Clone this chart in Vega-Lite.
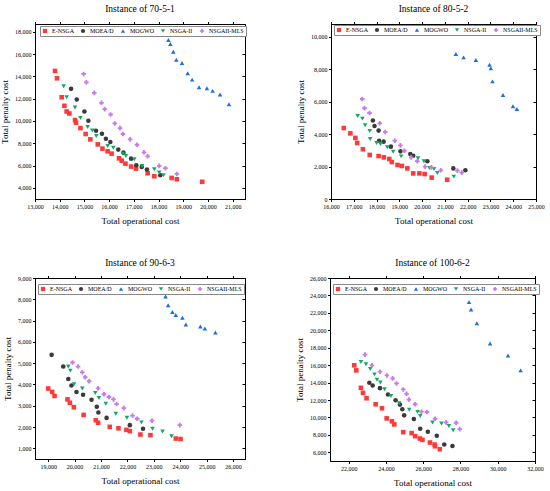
{
  "$schema": "https://vega.github.io/schema/vega-lite/v6.json",
  "padding": {"left": 0, "top": 3, "right": 0, "bottom": 0},
  "background": "white",
  "datasets": {
    "p1": [
      {"alg": "E-NSGA", "cost": 13810, "penalty": 14490}, {"alg": "E-NSGA", "cost": 13890, "penalty": 13830},
      {"alg": "E-NSGA", "cost": 14080, "penalty": 12130}, {"alg": "E-NSGA", "cost": 14190, "penalty": 11360},
      {"alg": "E-NSGA", "cost": 14280, "penalty": 10850}, {"alg": "E-NSGA", "cost": 14390, "penalty": 10670},
      {"alg": "E-NSGA", "cost": 14620, "penalty": 10080}, {"alg": "E-NSGA", "cost": 14660, "penalty": 9840},
      {"alg": "E-NSGA", "cost": 14840, "penalty": 9360}, {"alg": "E-NSGA", "cost": 15050, "penalty": 8830},
      {"alg": "E-NSGA", "cost": 15240, "penalty": 8350}, {"alg": "E-NSGA", "cost": 15540, "penalty": 7900},
      {"alg": "E-NSGA", "cost": 15730, "penalty": 7520}, {"alg": "E-NSGA", "cost": 15940, "penalty": 7280},
      {"alg": "E-NSGA", "cost": 16100, "penalty": 7070}, {"alg": "E-NSGA", "cost": 16400, "penalty": 6650},
      {"alg": "E-NSGA", "cost": 16510, "penalty": 6440}, {"alg": "E-NSGA", "cost": 16660, "penalty": 6170},
      {"alg": "E-NSGA", "cost": 16890, "penalty": 5910}, {"alg": "E-NSGA", "cost": 17090, "penalty": 5730},
      {"alg": "E-NSGA", "cost": 17560, "penalty": 5310}, {"alg": "E-NSGA", "cost": 17830, "penalty": 5040},
      {"alg": "E-NSGA", "cost": 18530, "penalty": 4890}, {"alg": "E-NSGA", "cost": 18740, "penalty": 4770},
      {"alg": "E-NSGA", "cost": 19770, "penalty": 4540},
      {"alg": "MOEA/D", "cost": 14460, "penalty": 12880}, {"alg": "MOEA/D", "cost": 14690, "penalty": 11920},
      {"alg": "MOEA/D", "cost": 15000, "penalty": 10850}, {"alg": "MOEA/D", "cost": 15160, "penalty": 10020},
      {"alg": "MOEA/D", "cost": 15470, "penalty": 9120}, {"alg": "MOEA/D", "cost": 15710, "penalty": 8860},
      {"alg": "MOEA/D", "cost": 15870, "penalty": 8410}, {"alg": "MOEA/D", "cost": 16050, "penalty": 8110},
      {"alg": "MOEA/D", "cost": 16370, "penalty": 7430}, {"alg": "MOEA/D", "cost": 16580, "penalty": 7160},
      {"alg": "MOEA/D", "cost": 16890, "penalty": 6620}, {"alg": "MOEA/D", "cost": 17100, "penalty": 6030},
      {"alg": "MOEA/D", "cost": 17320, "penalty": 5880}, {"alg": "MOEA/D", "cost": 17530, "penalty": 5640},
      {"alg": "MOEA/D", "cost": 18070, "penalty": 5130},
      {"alg": "MOGWO", "cost": 18400, "penalty": 17260}, {"alg": "MOGWO", "cost": 18480, "penalty": 16900},
      {"alg": "MOGWO", "cost": 18600, "penalty": 16210}, {"alg": "MOGWO", "cost": 18720, "penalty": 15500},
      {"alg": "MOGWO", "cost": 18950, "penalty": 15200}, {"alg": "MOGWO", "cost": 19180, "penalty": 14280},
      {"alg": "MOGWO", "cost": 19360, "penalty": 13710}, {"alg": "MOGWO", "cost": 19640, "penalty": 13030},
      {"alg": "MOGWO", "cost": 19960, "penalty": 12940}, {"alg": "MOGWO", "cost": 20190, "penalty": 12700},
      {"alg": "MOGWO", "cost": 20490, "penalty": 12370}, {"alg": "MOGWO", "cost": 20850, "penalty": 11510},
      {"alg": "NSGA-II", "cost": 14160, "penalty": 13120}, {"alg": "NSGA-II", "cost": 14280, "penalty": 12130},
      {"alg": "NSGA-II", "cost": 14620, "penalty": 11210}, {"alg": "NSGA-II", "cost": 14840, "penalty": 10260},
      {"alg": "NSGA-II", "cost": 15130, "penalty": 9450}, {"alg": "NSGA-II", "cost": 15320, "penalty": 9150},
      {"alg": "NSGA-II", "cost": 15480, "penalty": 8650}, {"alg": "NSGA-II", "cost": 15940, "penalty": 7750},
      {"alg": "NSGA-II", "cost": 16170, "penalty": 7600}, {"alg": "NSGA-II", "cost": 16550, "penalty": 7070},
      {"alg": "NSGA-II", "cost": 16680, "penalty": 6860}, {"alg": "NSGA-II", "cost": 17020, "penalty": 6560},
      {"alg": "NSGA-II", "cost": 17330, "penalty": 5970}, {"alg": "NSGA-II", "cost": 17830, "penalty": 5670},
      {"alg": "NSGA-II", "cost": 18030, "penalty": 5370}, {"alg": "NSGA-II", "cost": 18200, "penalty": 5130},
      {"alg": "NSGAII-MLS", "cost": 14970, "penalty": 14220}, {"alg": "NSGAII-MLS", "cost": 15080, "penalty": 13470},
      {"alg": "NSGAII-MLS", "cost": 15400, "penalty": 12520}, {"alg": "NSGAII-MLS", "cost": 15690, "penalty": 11630},
      {"alg": "NSGAII-MLS", "cost": 15820, "penalty": 11060}, {"alg": "NSGAII-MLS", "cost": 16060, "penalty": 10580},
      {"alg": "NSGAII-MLS", "cost": 16230, "penalty": 9780}, {"alg": "NSGAII-MLS", "cost": 16440, "penalty": 9360},
      {"alg": "NSGAII-MLS", "cost": 16560, "penalty": 8830}, {"alg": "NSGAII-MLS", "cost": 16850, "penalty": 8350},
      {"alg": "NSGAII-MLS", "cost": 17130, "penalty": 7870}, {"alg": "NSGAII-MLS", "cost": 17410, "penalty": 7190},
      {"alg": "NSGAII-MLS", "cost": 17560, "penalty": 6830}, {"alg": "NSGAII-MLS", "cost": 18030, "penalty": 5970},
      {"alg": "NSGAII-MLS", "cost": 18280, "penalty": 5760}, {"alg": "NSGAII-MLS", "cost": 18740, "penalty": 5250}
    ],
    "p2": [
      {"alg": "E-NSGA", "cost": 16560, "penalty": 4380}, {"alg": "E-NSGA", "cost": 16850, "penalty": 4050},
      {"alg": "E-NSGA", "cost": 17070, "penalty": 3770}, {"alg": "E-NSGA", "cost": 17150, "penalty": 3460},
      {"alg": "E-NSGA", "cost": 17400, "penalty": 3070}, {"alg": "E-NSGA", "cost": 17700, "penalty": 2720},
      {"alg": "E-NSGA", "cost": 18090, "penalty": 2650}, {"alg": "E-NSGA", "cost": 18320, "penalty": 2570},
      {"alg": "E-NSGA", "cost": 18560, "penalty": 2470}, {"alg": "E-NSGA", "cost": 18670, "penalty": 2280},
      {"alg": "E-NSGA", "cost": 18920, "penalty": 2100}, {"alg": "E-NSGA", "cost": 19110, "penalty": 2040},
      {"alg": "E-NSGA", "cost": 19350, "penalty": 1890}, {"alg": "E-NSGA", "cost": 19610, "penalty": 1580},
      {"alg": "E-NSGA", "cost": 19880, "penalty": 1580}, {"alg": "E-NSGA", "cost": 20110, "penalty": 1540},
      {"alg": "E-NSGA", "cost": 20420, "penalty": 1320}, {"alg": "E-NSGA", "cost": 21100, "penalty": 1190},
      {"alg": "MOEA/D", "cost": 17840, "penalty": 4840}, {"alg": "MOEA/D", "cost": 17910, "penalty": 4510},
      {"alg": "MOEA/D", "cost": 18090, "penalty": 4220}, {"alg": "MOEA/D", "cost": 18110, "penalty": 3600},
      {"alg": "MOEA/D", "cost": 18310, "penalty": 3540}, {"alg": "MOEA/D", "cost": 18630, "penalty": 3230},
      {"alg": "MOEA/D", "cost": 19050, "penalty": 2940}, {"alg": "MOEA/D", "cost": 19480, "penalty": 2780},
      {"alg": "MOEA/D", "cost": 19610, "penalty": 2670}, {"alg": "MOEA/D", "cost": 20230, "penalty": 2330},
      {"alg": "MOEA/D", "cost": 21370, "penalty": 1890}, {"alg": "MOEA/D", "cost": 21900, "penalty": 1770},
      {"alg": "MOGWO", "cost": 21480, "penalty": 8950}, {"alg": "MOGWO", "cost": 21820, "penalty": 8740},
      {"alg": "MOGWO", "cost": 22360, "penalty": 8580}, {"alg": "MOGWO", "cost": 22960, "penalty": 8290},
      {"alg": "MOGWO", "cost": 23020, "penalty": 8070}, {"alg": "MOGWO", "cost": 23090, "penalty": 7260},
      {"alg": "MOGWO", "cost": 23550, "penalty": 6420}, {"alg": "MOGWO", "cost": 23990, "penalty": 5720},
      {"alg": "MOGWO", "cost": 24160, "penalty": 5560},
      {"alg": "NSGA-II", "cost": 17170, "penalty": 5120}, {"alg": "NSGA-II", "cost": 17380, "penalty": 4960},
      {"alg": "NSGA-II", "cost": 17500, "penalty": 4550}, {"alg": "NSGA-II", "cost": 17700, "penalty": 4200},
      {"alg": "NSGA-II", "cost": 17720, "penalty": 3700}, {"alg": "NSGA-II", "cost": 18000, "penalty": 3460},
      {"alg": "NSGA-II", "cost": 18170, "penalty": 3390}, {"alg": "NSGA-II", "cost": 18470, "penalty": 3190},
      {"alg": "NSGA-II", "cost": 18730, "penalty": 2920}, {"alg": "NSGA-II", "cost": 19080, "penalty": 2630},
      {"alg": "NSGA-II", "cost": 19820, "penalty": 2510}, {"alg": "NSGA-II", "cost": 20080, "penalty": 2330},
      {"alg": "NSGA-II", "cost": 20320, "penalty": 1910}, {"alg": "NSGA-II", "cost": 20520, "penalty": 1850},
      {"alg": "NSGA-II", "cost": 20670, "penalty": 1600}, {"alg": "NSGA-II", "cost": 21390, "penalty": 1380},
      {"alg": "NSGAII-MLS", "cost": 17370, "penalty": 6170}, {"alg": "NSGAII-MLS", "cost": 17470, "penalty": 5600},
      {"alg": "NSGAII-MLS", "cost": 17690, "penalty": 5310}, {"alg": "NSGAII-MLS", "cost": 18140, "penalty": 4670},
      {"alg": "NSGAII-MLS", "cost": 18380, "penalty": 4140}, {"alg": "NSGAII-MLS", "cost": 18800, "penalty": 3600},
      {"alg": "NSGAII-MLS", "cost": 19050, "penalty": 3310}, {"alg": "NSGAII-MLS", "cost": 19220, "penalty": 2980},
      {"alg": "NSGAII-MLS", "cost": 19520, "penalty": 2570}, {"alg": "NSGAII-MLS", "cost": 19790, "penalty": 2330},
      {"alg": "NSGAII-MLS", "cost": 20130, "penalty": 2000}, {"alg": "NSGAII-MLS", "cost": 20410, "penalty": 1950},
      {"alg": "NSGAII-MLS", "cost": 20820, "penalty": 1770}, {"alg": "NSGAII-MLS", "cost": 21550, "penalty": 1750},
      {"alg": "NSGAII-MLS", "cost": 21740, "penalty": 1630}
    ],
    "p3": [
      {"alg": "E-NSGA", "cost": 19000, "penalty": 3810}, {"alg": "E-NSGA", "cost": 19150, "penalty": 3650},
      {"alg": "E-NSGA", "cost": 19240, "penalty": 3460}, {"alg": "E-NSGA", "cost": 19730, "penalty": 3300},
      {"alg": "E-NSGA", "cost": 19820, "penalty": 3140}, {"alg": "E-NSGA", "cost": 19970, "penalty": 2930},
      {"alg": "E-NSGA", "cost": 20340, "penalty": 2570}, {"alg": "E-NSGA", "cost": 20800, "penalty": 2320},
      {"alg": "E-NSGA", "cost": 20890, "penalty": 2200}, {"alg": "E-NSGA", "cost": 21330, "penalty": 2010},
      {"alg": "E-NSGA", "cost": 21660, "penalty": 1940}, {"alg": "E-NSGA", "cost": 21960, "penalty": 1870},
      {"alg": "E-NSGA", "cost": 22090, "penalty": 1810}, {"alg": "E-NSGA", "cost": 22490, "penalty": 1650},
      {"alg": "E-NSGA", "cost": 22870, "penalty": 1620}, {"alg": "E-NSGA", "cost": 23830, "penalty": 1460},
      {"alg": "E-NSGA", "cost": 24010, "penalty": 1440},
      {"alg": "MOEA/D", "cost": 19130, "penalty": 5390}, {"alg": "MOEA/D", "cost": 19570, "penalty": 4840},
      {"alg": "MOEA/D", "cost": 19760, "penalty": 4260}, {"alg": "MOEA/D", "cost": 19880, "penalty": 3950},
      {"alg": "MOEA/D", "cost": 20070, "penalty": 3650}, {"alg": "MOEA/D", "cost": 20320, "penalty": 3520},
      {"alg": "MOEA/D", "cost": 20640, "penalty": 3280}, {"alg": "MOEA/D", "cost": 20840, "penalty": 2950},
      {"alg": "MOEA/D", "cost": 20900, "penalty": 2680}, {"alg": "MOEA/D", "cost": 21210, "penalty": 2430},
      {"alg": "MOEA/D", "cost": 22090, "penalty": 2090}, {"alg": "MOEA/D", "cost": 22590, "penalty": 1920},
      {"alg": "MOGWO", "cost": 23440, "penalty": 8130}, {"alg": "MOGWO", "cost": 23540, "penalty": 7720},
      {"alg": "MOGWO", "cost": 23700, "penalty": 7400}, {"alg": "MOGWO", "cost": 23830, "penalty": 7260},
      {"alg": "MOGWO", "cost": 24080, "penalty": 7130}, {"alg": "MOGWO", "cost": 24210, "penalty": 6820},
      {"alg": "MOGWO", "cost": 24760, "penalty": 6720}, {"alg": "MOGWO", "cost": 24930, "penalty": 6630},
      {"alg": "MOGWO", "cost": 25330, "penalty": 6440},
      {"alg": "NSGA-II", "cost": 19760, "penalty": 4840}, {"alg": "NSGA-II", "cost": 19840, "penalty": 4650},
      {"alg": "NSGA-II", "cost": 19980, "penalty": 4010}, {"alg": "NSGA-II", "cost": 20290, "penalty": 3810},
      {"alg": "NSGA-II", "cost": 20780, "penalty": 3600}, {"alg": "NSGA-II", "cost": 20920, "penalty": 3360},
      {"alg": "NSGA-II", "cost": 21180, "penalty": 3090}, {"alg": "NSGA-II", "cost": 21560, "penalty": 2630},
      {"alg": "NSGA-II", "cost": 21980, "penalty": 2440}, {"alg": "NSGA-II", "cost": 22530, "penalty": 2220},
      {"alg": "NSGA-II", "cost": 22950, "penalty": 1920}, {"alg": "NSGA-II", "cost": 23330, "penalty": 1790},
      {"alg": "NSGA-II", "cost": 23670, "penalty": 1570},
      {"alg": "NSGAII-MLS", "cost": 19920, "penalty": 5030}, {"alg": "NSGAII-MLS", "cost": 20130, "penalty": 4840},
      {"alg": "NSGAII-MLS", "cost": 20290, "penalty": 4570}, {"alg": "NSGAII-MLS", "cost": 20400, "penalty": 4340},
      {"alg": "NSGAII-MLS", "cost": 20550, "penalty": 4150}, {"alg": "NSGAII-MLS", "cost": 20890, "penalty": 3820},
      {"alg": "NSGAII-MLS", "cost": 21110, "penalty": 3540}, {"alg": "NSGAII-MLS", "cost": 21300, "penalty": 3410},
      {"alg": "NSGAII-MLS", "cost": 21470, "penalty": 3300}, {"alg": "NSGAII-MLS", "cost": 21590, "penalty": 3080},
      {"alg": "NSGAII-MLS", "cost": 21860, "penalty": 2890}, {"alg": "NSGAII-MLS", "cost": 22190, "penalty": 2540},
      {"alg": "NSGAII-MLS", "cost": 22370, "penalty": 2390}, {"alg": "NSGAII-MLS", "cost": 22930, "penalty": 2300},
      {"alg": "NSGAII-MLS", "cost": 23980, "penalty": 2090}
    ],
    "p4": [
      {"alg": "E-NSGA", "cost": 22300, "penalty": 15980}, {"alg": "E-NSGA", "cost": 22410, "penalty": 15400},
      {"alg": "E-NSGA", "cost": 22660, "penalty": 13400}, {"alg": "E-NSGA", "cost": 22770, "penalty": 12820},
      {"alg": "E-NSGA", "cost": 22960, "penalty": 12200}, {"alg": "E-NSGA", "cost": 23450, "penalty": 11510},
      {"alg": "E-NSGA", "cost": 23790, "penalty": 11050}, {"alg": "E-NSGA", "cost": 24040, "penalty": 9890},
      {"alg": "E-NSGA", "cost": 24320, "penalty": 9550}, {"alg": "E-NSGA", "cost": 24450, "penalty": 9200},
      {"alg": "E-NSGA", "cost": 24930, "penalty": 8310}, {"alg": "E-NSGA", "cost": 25380, "penalty": 8200},
      {"alg": "E-NSGA", "cost": 25570, "penalty": 7850}, {"alg": "E-NSGA", "cost": 25820, "penalty": 7580},
      {"alg": "E-NSGA", "cost": 25960, "penalty": 7430}, {"alg": "E-NSGA", "cost": 26360, "penalty": 7120},
      {"alg": "E-NSGA", "cost": 26610, "penalty": 6890}, {"alg": "E-NSGA", "cost": 26640, "penalty": 6690},
      {"alg": "E-NSGA", "cost": 26890, "penalty": 6350},
      {"alg": "MOEA/D", "cost": 23110, "penalty": 13980}, {"alg": "MOEA/D", "cost": 23290, "penalty": 13670},
      {"alg": "MOEA/D", "cost": 23680, "penalty": 13360}, {"alg": "MOEA/D", "cost": 24110, "penalty": 12630},
      {"alg": "MOEA/D", "cost": 24520, "penalty": 11970}, {"alg": "MOEA/D", "cost": 24750, "penalty": 11470},
      {"alg": "MOEA/D", "cost": 24880, "penalty": 10930}, {"alg": "MOEA/D", "cost": 24980, "penalty": 10240},
      {"alg": "MOEA/D", "cost": 25500, "penalty": 9820}, {"alg": "MOEA/D", "cost": 25840, "penalty": 8700},
      {"alg": "MOEA/D", "cost": 26250, "penalty": 8350}, {"alg": "MOEA/D", "cost": 26730, "penalty": 7890},
      {"alg": "MOEA/D", "cost": 27130, "penalty": 6890}, {"alg": "MOEA/D", "cost": 27570, "penalty": 6730},
      {"alg": "MOGWO", "cost": 28460, "penalty": 23230}, {"alg": "MOGWO", "cost": 28570, "penalty": 22380},
      {"alg": "MOGWO", "cost": 28880, "penalty": 20800}, {"alg": "MOGWO", "cost": 29590, "penalty": 18490},
      {"alg": "MOGWO", "cost": 30550, "penalty": 17100}, {"alg": "MOGWO", "cost": 31230, "penalty": 15400},
      {"alg": "NSGA-II", "cost": 22660, "penalty": 16370}, {"alg": "NSGA-II", "cost": 22930, "penalty": 16100},
      {"alg": "NSGA-II", "cost": 23160, "penalty": 15560}, {"alg": "NSGA-II", "cost": 23390, "penalty": 14940},
      {"alg": "NSGA-II", "cost": 23520, "penalty": 14320}, {"alg": "NSGA-II", "cost": 23700, "penalty": 14020},
      {"alg": "NSGA-II", "cost": 23930, "penalty": 13240}, {"alg": "NSGA-II", "cost": 24270, "penalty": 12470},
      {"alg": "NSGA-II", "cost": 24710, "penalty": 11630}, {"alg": "NSGA-II", "cost": 25250, "penalty": 10890},
      {"alg": "NSGA-II", "cost": 25700, "penalty": 10620}, {"alg": "NSGA-II", "cost": 25840, "penalty": 10160},
      {"alg": "NSGA-II", "cost": 26500, "penalty": 9430}, {"alg": "NSGA-II", "cost": 26980, "penalty": 9310},
      {"alg": "NSGA-II", "cost": 27380, "penalty": 9010}, {"alg": "NSGA-II", "cost": 27610, "penalty": 8540},
      {"alg": "NSGAII-MLS", "cost": 22880, "penalty": 17210}, {"alg": "NSGAII-MLS", "cost": 23250, "penalty": 15980},
      {"alg": "NSGAII-MLS", "cost": 23680, "penalty": 15250}, {"alg": "NSGAII-MLS", "cost": 24050, "penalty": 14820},
      {"alg": "NSGAII-MLS", "cost": 24360, "penalty": 14480}, {"alg": "NSGAII-MLS", "cost": 24570, "penalty": 13900},
      {"alg": "NSGAII-MLS", "cost": 24930, "penalty": 13210}, {"alg": "NSGAII-MLS", "cost": 25110, "penalty": 12710},
      {"alg": "NSGAII-MLS", "cost": 25230, "penalty": 12050}, {"alg": "NSGAII-MLS", "cost": 25570, "penalty": 11510},
      {"alg": "NSGAII-MLS", "cost": 25910, "penalty": 10660}, {"alg": "NSGAII-MLS", "cost": 26200, "penalty": 10620},
      {"alg": "NSGAII-MLS", "cost": 26640, "penalty": 9850}, {"alg": "NSGAII-MLS", "cost": 27230, "penalty": 9430},
      {"alg": "NSGAII-MLS", "cost": 27770, "penalty": 9390}, {"alg": "NSGAII-MLS", "cost": 27960, "penalty": 8660}
    ]
  },
  "spacing": 31,
  "resolve": {"legend": {"color": "independent", "shape": "independent"}},
  "vconcat": [
    {
      "spacing": 49,
      "resolve": {"legend": {"color": "independent", "shape": "independent"}},
      "hconcat": [
        {
          "title": "Instance of 70-5-1",
          "width": 210, "height": 175,
          "data": {"name": "p1"},
          "resolve": {"axis": {"x": "independent", "y": "independent"}},
          "layer": [
            {
              "mark": {"type": "point", "filled": true, "opacity": 1, "size": 21},
              "encoding": {
                "x": {"field": "cost", "type": "quantitative", "scale": {"domain": [13000, 21500], "nice": false, "zero": false},
                      "axis": {"title": "Total operational cost", "values": [13000, 14000, 15000, 16000, 17000, 18000, 19000, 20000, 21000], "format": ",.0f"}},
                "y": {"field": "penalty", "type": "quantitative", "scale": {"domain": [3000, 18700], "nice": false, "zero": false},
                      "axis": {"title": "Total penalty cost", "values": [4000, 6000, 8000, 10000, 12000, 14000, 16000, 18000], "format": ",.0f"}},
                "color": {"field": "alg", "type": "nominal", "title": null,
                          "scale": {"domain": ["E-NSGA", "MOEA/D", "MOGWO", "NSGA-II", "NSGAII-MLS"], "range": ["#ff3838", "#3a3a3a", "#1c6fe3", "#12a862", "#c879ea"]},
                          "legend": {"legendX": 5, "legendY": 2}},
                "shape": {"field": "alg", "type": "nominal", "title": null,
                          "scale": {"domain": ["E-NSGA", "MOEA/D", "MOGWO", "NSGA-II", "NSGAII-MLS"], "range": ["square", "circle", "triangle-up", "triangle-down", "cross"]},
                          "legend": {"legendX": 5, "legendY": 2}}
              }
            },
            {
              "mark": {"type": "point", "opacity": 0},
              "encoding": {
                "x": {"field": "cost", "type": "quantitative", "scale": {"domain": [13000, 21500], "nice": false, "zero": false},
                      "axis": {"orient": "top", "title": null, "labels": false, "values": [13000, 14000, 15000, 16000, 17000, 18000, 19000, 20000, 21000]}},
                "y": {"field": "penalty", "type": "quantitative", "scale": {"domain": [3000, 18700], "nice": false, "zero": false},
                      "axis": {"orient": "right", "title": null, "labels": false, "tickSize": -3, "values": [4000, 6000, 8000, 10000, 12000, 14000, 16000, 18000]}}
              }
            }
          ]
        },
        {
          "title": "Instance of 80-5-2",
          "width": 205, "height": 175,
          "data": {"name": "p2"},
          "resolve": {"axis": {"x": "independent", "y": "independent"}},
          "layer": [
            {
              "mark": {"type": "point", "filled": true, "opacity": 1, "size": 21},
              "encoding": {
                "x": {"field": "cost", "type": "quantitative", "scale": {"domain": [16000, 25000], "nice": false, "zero": false},
                      "axis": {"title": "Total operational cost", "values": [16000, 17000, 18000, 19000, 20000, 21000, 22000, 23000, 24000, 25000], "format": ",.0f"}},
                "y": {"field": "penalty", "type": "quantitative", "scale": {"domain": [0, 10800], "nice": false, "zero": false},
                      "axis": {"title": "Total penalty cost", "values": [0, 2000, 4000, 6000, 8000, 10000], "format": ",.0f"}},
                "color": {"field": "alg", "type": "nominal", "title": null,
                          "scale": {"domain": ["E-NSGA", "MOEA/D", "MOGWO", "NSGA-II", "NSGAII-MLS"], "range": ["#ff3838", "#3a3a3a", "#1c6fe3", "#12a862", "#c879ea"]},
                          "legend": {"legendX": 3, "legendY": 1}},
                "shape": {"field": "alg", "type": "nominal", "title": null,
                          "scale": {"domain": ["E-NSGA", "MOEA/D", "MOGWO", "NSGA-II", "NSGAII-MLS"], "range": ["square", "circle", "triangle-up", "triangle-down", "cross"]},
                          "legend": {"legendX": 3, "legendY": 1}}
              }
            },
            {
              "mark": {"type": "point", "opacity": 0},
              "encoding": {
                "x": {"field": "cost", "type": "quantitative", "scale": {"domain": [16000, 25000], "nice": false, "zero": false},
                      "axis": {"orient": "top", "title": null, "labels": false, "values": [16000, 17000, 18000, 19000, 20000, 21000, 22000, 23000, 24000, 25000]}},
                "y": {"field": "penalty", "type": "quantitative", "scale": {"domain": [0, 10800], "nice": false, "zero": false},
                      "axis": {"orient": "right", "title": null, "labels": false, "tickSize": -3, "values": [0, 2000, 4000, 6000, 8000, 10000]}}
              }
            }
          ]
        }
      ]
    },
    {
      "spacing": 49,
      "resolve": {"legend": {"color": "independent", "shape": "independent"}},
      "hconcat": [
        {
          "title": "Instance of 90-6-3",
          "width": 210, "height": 181,
          "data": {"name": "p3"},
          "resolve": {"axis": {"x": "independent", "y": "independent"}},
          "layer": [
            {
              "mark": {"type": "point", "filled": true, "opacity": 1, "size": 21},
              "encoding": {
                "x": {"field": "cost", "type": "quantitative", "scale": {"domain": [18500, 26450], "nice": false, "zero": false},
                      "axis": {"title": "Total operational cost", "values": [19000, 20000, 21000, 22000, 23000, 24000, 25000, 26000], "format": ",.0f"}},
                "y": {"field": "penalty", "type": "quantitative", "scale": {"domain": [500, 9000], "nice": false, "zero": false},
                      "axis": {"title": "Total penalty cost", "values": [1000, 2000, 3000, 4000, 5000, 6000, 7000, 8000, 9000], "format": ",.0f"}},
                "color": {"field": "alg", "type": "nominal", "title": null,
                          "scale": {"domain": ["E-NSGA", "MOEA/D", "MOGWO", "NSGA-II", "NSGAII-MLS"], "range": ["#ff3838", "#3a3a3a", "#1c6fe3", "#12a862", "#c879ea"]},
                          "legend": {"legendX": 3, "legendY": 6}},
                "shape": {"field": "alg", "type": "nominal", "title": null,
                          "scale": {"domain": ["E-NSGA", "MOEA/D", "MOGWO", "NSGA-II", "NSGAII-MLS"], "range": ["square", "circle", "triangle-up", "triangle-down", "cross"]},
                          "legend": {"legendX": 3, "legendY": 6}}
              }
            },
            {
              "mark": {"type": "point", "opacity": 0},
              "encoding": {
                "x": {"field": "cost", "type": "quantitative", "scale": {"domain": [18500, 26450], "nice": false, "zero": false},
                      "axis": {"orient": "top", "title": null, "labels": false, "values": [19000, 20000, 21000, 22000, 23000, 24000, 25000, 26000]}},
                "y": {"field": "penalty", "type": "quantitative", "scale": {"domain": [500, 9000], "nice": false, "zero": false},
                      "axis": {"orient": "right", "title": null, "labels": false, "tickSize": -3, "values": [1000, 2000, 3000, 4000, 5000, 6000, 7000, 8000, 9000]}}
              }
            }
          ]
        },
        {
          "title": "Instance of 100-6-2",
          "width": 205, "height": 183,
          "data": {"name": "p4"},
          "resolve": {"axis": {"x": "independent", "y": "independent"}},
          "layer": [
            {
              "mark": {"type": "point", "filled": true, "opacity": 1, "size": 21},
              "encoding": {
                "x": {"field": "cost", "type": "quantitative", "scale": {"domain": [21000, 32000], "nice": false, "zero": false},
                      "axis": {"title": "Total operational cost", "values": [22000, 24000, 26000, 28000, 30000, 32000], "format": ",.0f"}},
                "y": {"field": "penalty", "type": "quantitative", "scale": {"domain": [5000, 26000], "nice": false, "zero": false},
                      "axis": {"title": "Total penalty cost", "values": [6000, 8000, 10000, 12000, 14000, 16000, 18000, 20000, 22000, 24000, 26000], "format": ",.0f"}},
                "color": {"field": "alg", "type": "nominal", "title": null,
                          "scale": {"domain": ["E-NSGA", "MOEA/D", "MOGWO", "NSGA-II", "NSGAII-MLS"], "range": ["#ff3838", "#3a3a3a", "#1c6fe3", "#12a862", "#c879ea"]},
                          "legend": {"legendX": 3, "legendY": 6}},
                "shape": {"field": "alg", "type": "nominal", "title": null,
                          "scale": {"domain": ["E-NSGA", "MOEA/D", "MOGWO", "NSGA-II", "NSGAII-MLS"], "range": ["square", "circle", "triangle-up", "triangle-down", "cross"]},
                          "legend": {"legendX": 3, "legendY": 6}}
              }
            },
            {
              "mark": {"type": "point", "opacity": 0},
              "encoding": {
                "x": {"field": "cost", "type": "quantitative", "scale": {"domain": [21000, 32000], "nice": false, "zero": false},
                      "axis": {"orient": "top", "title": null, "labels": false, "values": [22000, 24000, 26000, 28000, 30000, 32000]}},
                "y": {"field": "penalty", "type": "quantitative", "scale": {"domain": [5000, 26000], "nice": false, "zero": false},
                      "axis": {"orient": "right", "title": null, "labels": false, "tickSize": -3, "values": [6000, 8000, 10000, 12000, 14000, 16000, 18000, 20000, 22000, 24000, 26000]}}
              }
            }
          ]
        }
      ]
    }
  ],
  "config": {
    "font": "Liberation Serif",
    "view": {"stroke": "black", "strokeWidth": 1},
    "title": {"font": "Liberation Serif", "fontSize": 9.5, "fontWeight": "normal", "color": "black", "offset": 8},
    "axis": {
      "grid": false, "domainColor": "black", "tickColor": "black", "labelColor": "black", "titleColor": "black",
      "labelFont": "Liberation Serif", "titleFont": "Liberation Serif", "labelFontSize": 6, "titleFontSize": 9,
      "titleFontWeight": "normal", "tickSize": 2.5, "labelPadding": 1.5, "titlePadding": 7,
      "labelOverlap": false, "labelFlush": false
    },
    "axisY": {"titlePadding": 5},
    "legend": {
      "orient": "none", "direction": "horizontal", "columns": 5, "strokeColor": "#888", "fillColor": "white",
      "padding": 2, "labelFont": "Liberation Serif", "labelFontSize": 6, "labelColor": "black",
      "symbolSize": 18, "columnPadding": 6, "labelOffset": 4, "symbolStrokeWidth": 0
    }
  }
}
